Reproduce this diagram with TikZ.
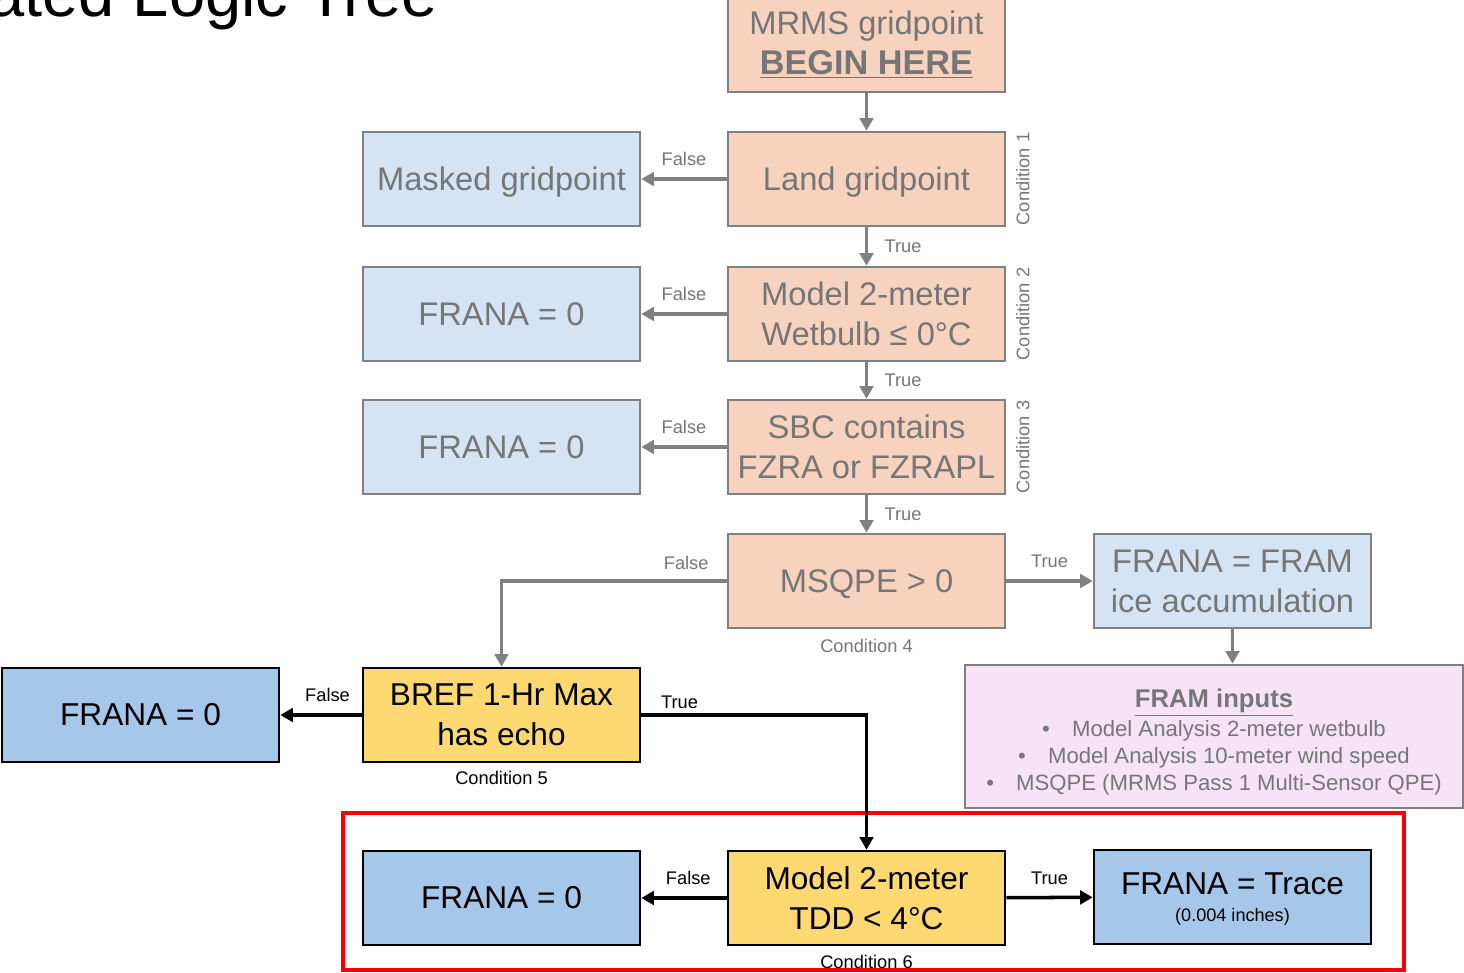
\documentclass[tikz,border=0pt]{standalone}
\usepackage{fontspec}
\setmainfont{Liberation Sans}
\usetikzlibrary{arrows.meta}
\definecolor{PeachClr}{RGB}{247,210,191}
\definecolor{PaleBlueClr}{RGB}{213,228,244}
\definecolor{BlueClr}{RGB}{164,199,234}
\definecolor{YellowClr}{RGB}{254,217,114}
\definecolor{PinkClr}{RGB}{246,228,246}
\definecolor{LineClr}{RGB}{128,128,128}
\definecolor{TextClr}{RGB}{118,118,118}
\definecolor{FrameClr}{RGB}{250,0,0}

\begin{document}
\begin{tikzpicture}[x=0.02cm,y=-0.02cm,
  box/.style={draw=LineClr,line width=1.5pt,fill=PeachClr,text=TextClr,
    minimum width=5.54cm,minimum height=1.88cm,inner sep=0pt,align=center,
    font=\fontsize{18.6}{22.7}\selectfont},
  pale/.style={box,fill=PaleBlueClr},
  hot/.style={box,draw=black,text=black,fill=YellowClr,font=\fontsize{18}{22.7}\selectfont},
  res/.style={hot,fill=BlueClr},
  lbl/.style={text=TextClr,font=\fontsize{10.4}{12}\selectfont},
  blbl/.style={lbl,text=black},
  flow/.style={draw=LineClr,line width=2pt,-{Triangle[length=0.25cm,width=0.27cm]}},
  bflow/.style={flow,draw=black}]
\useasboundingbox (0,0) rectangle (1464,973);
\clip (0,0) rectangle (1464,973);

\node[anchor=base west,inner sep=0pt,font=\fontsize{37}{40}\selectfont] (title) at (-12,17) {ated Logic Tree};

% grey part of the tree
\node[box] (mrms) at (866.5,45) {MRMS gridpoint\\{\fontsize{19.5}{22.7}\selectfont\textbf{\underline{BEGIN HERE}}}};
\node[box,text depth=0pt] (land) at (866.5,179) {Land gridpoint};
\node[pale,text depth=0pt] (masked) at (501.5,179) {Masked gridpoint};
\node[box] (wetbulb) at (866.5,314) {Model 2-meter\\Wetbulb ≤ 0°C};
\node[pale] (zeroA) at (501.5,314) {FRANA = 0};
\node[box] (sbc) at (866.5,447) {SBC contains\\FZRA or FZRAPL};
\node[pale] (zeroB) at (501.5,447) {FRANA = 0};
\node[box,text depth=0pt] (msqpe) at (866.5,581) {MSQPE > 0};
\node[pale] (fram) at (1232.5,581) {FRANA = FRAM\\ice accumulation};
\node[pale,fill=PinkClr,minimum width=9.96cm,minimum height=2.86cm] (inputs) at (1214,736.5) {};
\node[text=TextClr,align=center,font=\fontsize{12.6}{15.3}\selectfont] (inputsTxt) at (1214,742)
  {{\fontsize{14.6}{17}\selectfont\textbf{\underline{FRAM inputs}}}\\[1pt]
   •\quad Model Analysis 2-meter wetbulb\\
   •\quad Model Analysis 10-meter wind speed\\
   •\quad MSQPE (MRMS Pass 1 Multi-Sensor QPE)};

\node[lbl,rotate=90,anchor=north] (cA) at ([xshift=2pt]land.east) {Condition 1};
\node[lbl,rotate=90,anchor=north] (cB) at ([xshift=2pt]wetbulb.east) {Condition 2};
\node[lbl,rotate=90,anchor=north] (cC) at ([xshift=2pt]sbc.east) {Condition 3};
\node[lbl,below=2pt] (cD) at (msqpe.south) {Condition 4};

% black part of the tree
\node[hot] (bref) at (501.5,715) {BREF 1-Hr Max\\has echo};
\node[res] (zeroC) at (140.5,715) {FRANA = 0};
\node[hot] (tdd) at (866.5,898) {Model 2-meter\\TDD < 4°C};
\node[res] (zeroD) at (501.5,898) {FRANA = 0};
\node[res,text depth=0pt] (trace) at (1232.5,897) {FRANA = Trace\\[-7pt]{\fontsize{10.3}{12}\selectfont (0.004 inches)}};
\node[blbl,below=1pt] (cE) at (bref.south) {Condition 5};
\node[blbl,below=1.5pt] (cF) at (tdd.south) {Condition 6};

\draw[FrameClr,line width=2.3pt] (343,813) rectangle (1404,970);

% connectors
\draw[flow] (mrms) -- (land);
\draw[flow] (land) -- node[lbl,above=3pt]{False} (masked);
\draw[flow] (land) -- node[lbl,right=6pt]{True} (wetbulb);
\draw[flow] (wetbulb) -- node[lbl,above=3pt]{False} (zeroA);
\draw[flow] (wetbulb) -- node[lbl,right=6pt]{True} (sbc);
\draw[flow] (sbc) -- node[lbl,above=3pt]{False} (zeroB);
\draw[flow] (sbc) -- node[lbl,right=6pt]{True} (msqpe);
\draw[flow] (msqpe) -- node[lbl,above=3pt]{True} (fram);
\draw[flow] (fram.south) -- (fram.south |- inputs.north);
\draw[flow] (msqpe.west) -| node[lbl,above=2pt,pos=0.09]{False} (bref.north);
\draw[bflow] (bref) -- node[blbl,above=3pt,pos=0.42]{False} (zeroC);
\draw[bflow] (bref.east) -| node[blbl,above=-0.5pt,pos=0.085]{True} (tdd.north);
\draw[bflow] (tdd) -- node[blbl,above=3pt,pos=0.45]{False} (zeroD);
\draw[bflow] (tdd) -- node[blbl,above=3pt]{True} (trace);
\end{tikzpicture}
\end{document}
